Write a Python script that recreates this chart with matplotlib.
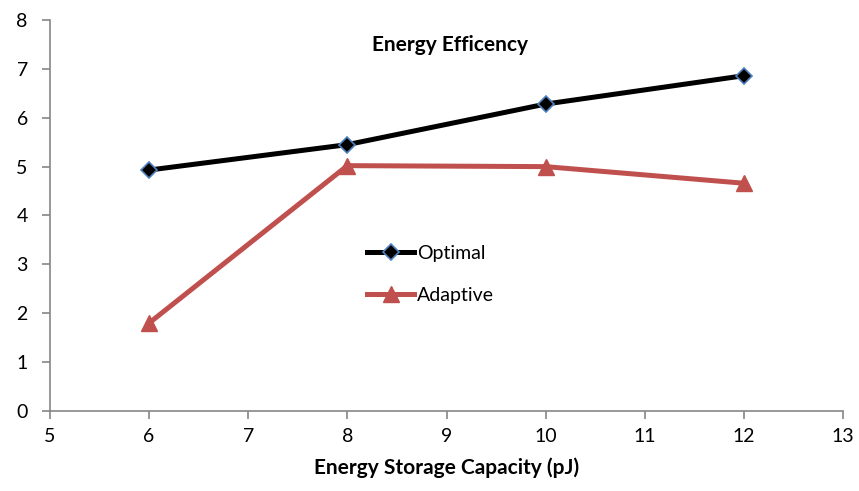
import matplotlib.pyplot as plt

# data
capacity = [6, 8, 10, 12]
optimal = [4.93, 5.45, 6.28, 6.86]
adaptive = [1.80, 5.02, 5.00, 4.66]

plt.rcParams['font.family'] = ['Lato', 'DejaVu Sans']

fig = plt.figure(figsize=(8.59, 4.91), dpi=100)
ax = fig.add_axes([0.0582, 0.1629, 0.9232, 0.7964])

ax.plot(capacity, optimal, color='black', linewidth=3.6, marker='D', markersize=8,
        markerfacecolor='black', markeredgecolor='#4f81bd', markeredgewidth=1.2, label='Optimal')
ax.plot(capacity, adaptive, color='#c0504d', linewidth=3.6, marker='^', markersize=12,
        markerfacecolor='#c0504d', markeredgecolor='#c0504d', label='Adaptive')

ax.set_xlim(5, 13)
ax.set_ylim(0, 8)
ax.set_xticks(range(5, 14))
ax.set_yticks(range(0, 9))

for side in ['top', 'right']:
    ax.spines[side].set_visible(False)
for side in ['left', 'bottom']:
    ax.spines[side].set_color('#868686')
    ax.spines[side].set_linewidth(1.2)
ax.tick_params(colors='#868686', labelcolor='black', labelsize=14, length=6, width=1.2)
ax.tick_params(axis='y', pad=10)
ax.tick_params(axis='x', pad=6)

ax.set_xlabel('Energy Storage Capacity (pJ)', fontsize=15, fontweight='bold', labelpad=9)
ax.text(0.504, 0.936, 'Energy Efficency', transform=ax.transAxes, ha='center', va='center',
        fontsize=15, fontweight='bold')

ax.legend(loc='upper left', bbox_to_anchor=(0.378, 0.47), frameon=False, fontsize=14,
          handlelength=2.4, handletextpad=0.15, labelspacing=1.3)

fig.savefig('out.png', dpi=100)
